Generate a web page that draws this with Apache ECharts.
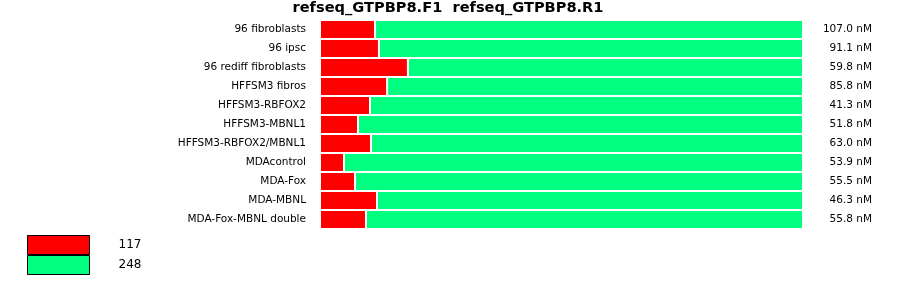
<!DOCTYPE html>
<html><head><meta charset="utf-8">
<script src="https://cdn.jsdelivr.net/npm/echarts@6/dist/echarts.min.js"></script>
<style>html,body{margin:0;padding:0;background:#fff}#c{width:900px;height:299px}</style>
</head><body><div id="c"></div>
<script>
const titleText = 'refseq_GTPBP8.F1  refseq_GTPBP8.R1';
const categories = ['96 fibroblasts','96 ipsc','96 rediff fibroblasts','HFFSM3 fibros','HFFSM3-RBFOX2','HFFSM3-MBNL1','HFFSM3-RBFOX2/MBNL1','MDAcontrol','MDA-Fox','MDA-MBNL','MDA-Fox-MBNL double'];
const concLabels = ['107.0 nM','91.1 nM','59.8 nM','85.8 nM','41.3 nM','51.8 nM','63.0 nM','53.9 nM','55.5 nM','46.3 nM','55.8 nM'];
const seriesNames = ['117','248'];
const redShare = [11.4,12.2,18.2,13.9,10.35,7.87,10.56,4.97,7.25,11.8,9.52];
const greenShare = [88.6,87.8,81.8,86.1,89.65,92.13,89.44,95.03,92.75,88.2,90.48];
const colors = ['#ff0000','#00ff80'];

const chart = echarts.init(document.getElementById('c'), null, {renderer:'canvas'});
const font = 'DejaVu Sans';
chart.setOption({
  animation:false,
  title:{text:titleText,left:448,textAlign:'center',top:1,padding:0,textStyle:{fontFamily:font,fontSize:14.6,fontWeight:'bold',color:'#000'}},
  legend:{orient:'vertical',left:27,top:235,padding:0,itemWidth:62,itemHeight:19,itemGap:0,icon:'rect',
    itemStyle:{borderColor:'#000',borderWidth:1},
    textStyle:{fontFamily:font,fontSize:12,color:'#000',padding:[2,0,0,24]},
    data:seriesNames, selectedMode:false},
  grid:{left:320,right:97,top:20,bottom:70},
  xAxis:{type:'value',min:0,max:100,show:false},
  yAxis:[{type:'category',data:categories,inverse:true,axisLine:{show:false},axisTick:{show:false},
    axisLabel:{fontFamily:font,fontSize:10.5,color:'#000',margin:14}},
    {type:'category',data:concLabels,inverse:true,position:'right',axisLine:{show:false},axisTick:{show:false},
    axisLabel:{fontFamily:font,fontSize:10.5,color:'#000',align:'right',margin:69}}],
  series:[
    {name:seriesNames[0],type:'bar',stack:'s',data:redShare,barWidth:'100%',itemStyle:{color:colors[0],borderColor:'#fff',borderWidth:1}},
    {name:seriesNames[1],type:'bar',stack:'s',data:greenShare,barWidth:'100%',itemStyle:{color:colors[1],borderColor:'#fff',borderWidth:1}}
  ]
});
</script></body></html>
